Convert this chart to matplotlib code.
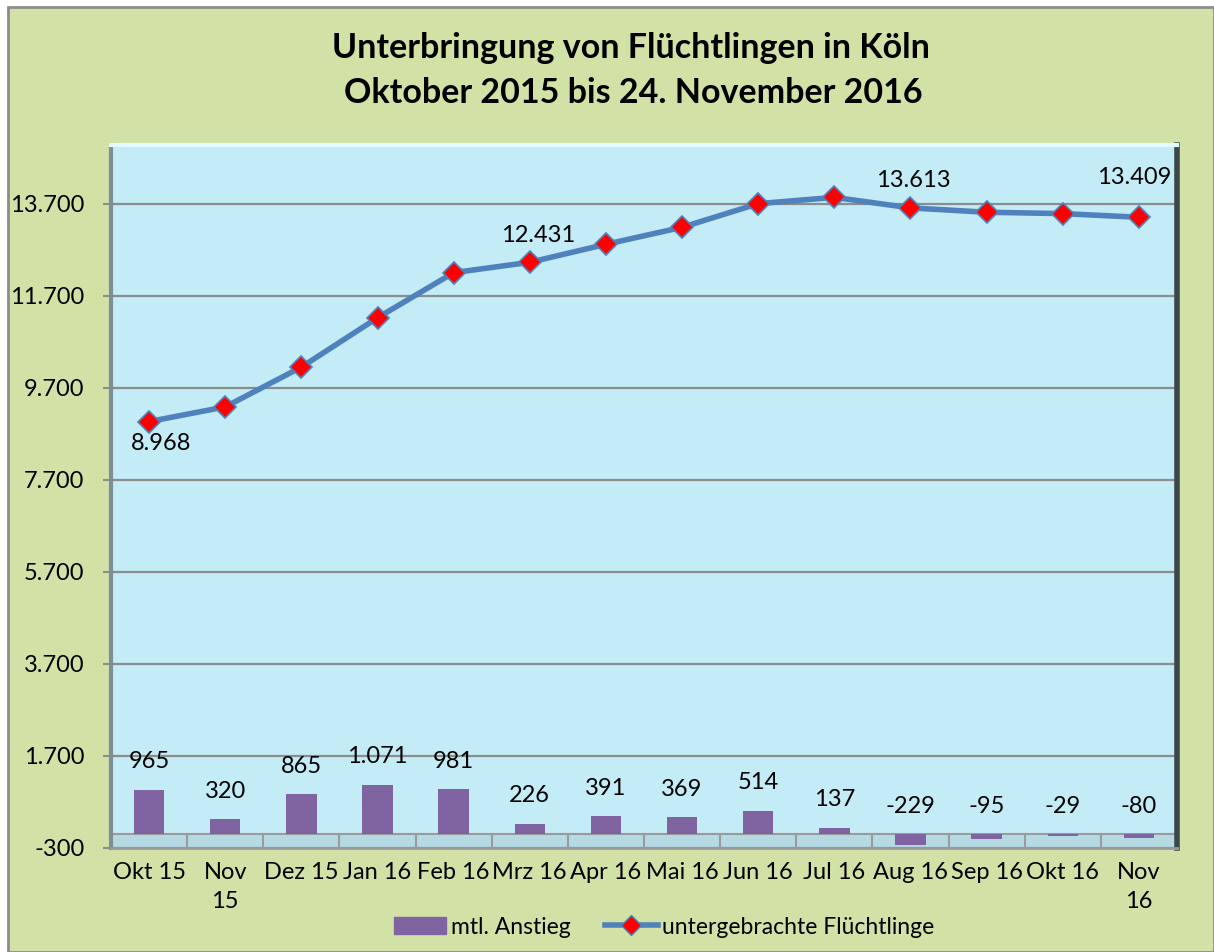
import matplotlib
matplotlib.use("Agg")
import matplotlib.pyplot as plt
from matplotlib.patches import Rectangle
from matplotlib.lines import Line2D
import numpy as np

plt.rcParams['font.family'] = ['Lato', 'DejaVu Sans']

categories = ["Okt 15", "Nov\n15", "Dez 15", "Jan 16", "Feb 16", "Mrz 16", "Apr 16",
              "Mai 16", "Jun 16", "Jul 16", "Aug 16", "Sep 16", "Okt 16", "Nov\n16"]
anstieg = [965, 320, 865, 1071, 981, 226, 391, 369, 514, 137, -229, -95, -29, -80]
fluechtlinge = [8968, 9288, 10153, 11224, 12205, 12431, 12822, 13191, 13705, 13842,
                13613, 13518, 13489, 13409]
yticks = [-300, 1700, 3700, 5700, 7700, 9700, 11700, 13700]
line_label_idx = [0, 5, 10, 13]

def fmt(v):
    return f"{v:,}".replace(",", ".")

W, H = 1214, 952
fig = plt.figure(figsize=(W / 100, H / 100), dpi=100, facecolor="white")
bg = Rectangle((8 / W, 0), 1 - 8 / W, 1 - 7 / H, transform=fig.transFigure,
               facecolor="#D2E2A7", edgecolor="#8C8C8C", linewidth=2, zorder=-10)
fig.patches.append(bg)

left, right, top, bottom = 111, 1177, 145, 848
ax = fig.add_axes([left / W, 1 - bottom / H, (right - left) / W, (bottom - top) / H])
ax.set_facecolor("#C3ECF6")

x = np.arange(len(categories))
ax.set_xlim(-0.5, len(categories) - 0.5)
ax.set_ylim(-300, 14980)

# floor band
ax.axhspan(-300, 0, color="#B6DAE4", zorder=0.5)
ax.axhline(0, color="#9A9A9A", lw=1.5, zorder=0.6)
for b in np.arange(0.5, len(categories) - 0.5, 1):
    ax.plot([b, b], [-300, 0], color="#9A9A9A", lw=1.5, zorder=0.6)

ax.set_yticks(yticks)
ax.set_yticklabels([fmt(v) for v in yticks])
ax.yaxis.grid(True, color="#8C8C8C", lw=1.6, zorder=0.4)
ax.set_axisbelow(True)
ax.tick_params(axis="y", length=6, width=1.5, color="#8C8C8C", pad=13, labelsize=17)
ax.set_xticks(x)
ax.set_xticklabels(categories, fontsize=17, linespacing=1.45)
ax.tick_params(axis="x", length=0, pad=10)

ax.bar(x, anstieg, width=0.4, color="#8064A2", zorder=2, label="mtl. Anstieg")
for xi, v in zip(x, anstieg):
    ax.annotate(fmt(v), (xi, max(v, 0)), xytext=(0, 28), textcoords="offset pixels",
                ha="center", va="center", fontsize=17, zorder=5)

ax.plot(x, fluechtlinge, color="#4F81BD", lw=4, marker="D", markersize=11,
        markerfacecolor="#FF0000", markeredgecolor="#4F81BD", markeredgewidth=1.2,
        zorder=3, label="untergebrachte Flüchtlinge")
offsets = {0: (12, -22), 5: (8, 27), 10: (3, 27), 13: (-5, 40)}
for i in line_label_idx:
    ax.annotate(fmt(fluechtlinge[i]), (x[i], fluechtlinge[i]), xytext=offsets[i],
                textcoords="offset pixels", ha="center", va="center", fontsize=17, zorder=5)

ax.spines["left"].set_color("#7D8E94"); ax.spines["left"].set_linewidth(3)
ax.spines["right"].set_color("#3C474B"); ax.spines["right"].set_linewidth(4)
ax.spines["top"].set_color("#E2FAFF"); ax.spines["top"].set_linewidth(3)
ax.spines["bottom"].set_color("#9A9A9A"); ax.spines["bottom"].set_linewidth(2)

fig.text(0.52, 1 - 48 / H, "Unterbringung von Flüchtlingen in Köln", ha="center",
         va="center", fontsize=24.5, fontweight="bold")
fig.text(0.522, 1 - 93 / H, "Oktober 2015 bis 24. November 2016", ha="center",
         va="center", fontsize=24.5, fontweight="bold")

handles = [Rectangle((0, 0), 1, 1, color="#8064A2"),
           Line2D([0], [0], color="#4F81BD", lw=4, marker="D", markersize=10,
                  markerfacecolor="#FF0000", markeredgecolor="#4F81BD")]
fig.legend(handles, ["mtl. Anstieg", "untergebrachte Flüchtlinge"], loc="center",
           bbox_to_anchor=(664 / W, 1 - 927 / H), ncol=2, frameon=False, fontsize=16.5,
           handlelength=2.3, handletextpad=0.2, columnspacing=1.5)

fig.savefig("out.png", dpi=100, facecolor="white")
